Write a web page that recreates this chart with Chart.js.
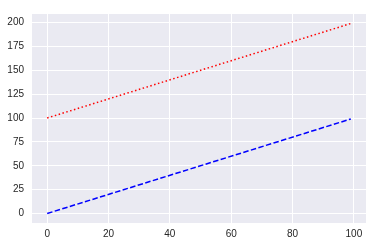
<!DOCTYPE html>
<html>
<head>
<meta charset="utf-8">
<script src="https://cdn.jsdelivr.net/npm/chart.js@4"></script>
<style>
  html, body { margin: 0; padding: 0; background: #fff; }
  #wrap { width: 373px; height: 247px; }
</style>
</head>
<body>
<div id="wrap"><canvas id="chart" width="373" height="247"></canvas></div>
<script>
// values
const xEnds = [0, 99];
const lowerLine = [0, 99];
const upperLine = [100, 199];
const xTicks = [0, 20, 40, 60, 80, 100];
const yTicks = [0, 25, 50, 75, 100, 125, 150, 175, 200];

const toPoints = (xs, ys) => xs.map((x, i) => ({ x: x, y: ys[i] }));

const plotBackground = {
  id: 'plotBackground',
  beforeDraw: chart => {
    const { ctx, chartArea } = chart;
    ctx.save();
    ctx.fillStyle = '#eaeaf2';
    ctx.fillRect(chartArea.left, chartArea.top, chartArea.right - chartArea.left, chartArea.bottom - chartArea.top);
    ctx.restore();
  }
};

const tickFont = { family: "'Liberation Sans', Arial, sans-serif", size: 10 };

new Chart(document.getElementById('chart'), {
  type: 'line',
  data: {
    datasets: [
      {
        data: toPoints(xEnds, lowerLine),
        borderColor: '#0000ff',
        borderWidth: 1.5,
        borderDash: [5.5, 2.4],
        pointRadius: 0,
        fill: false
      },
      {
        data: toPoints(xEnds, upperLine),
        borderColor: '#ff0000',
        borderWidth: 1.5,
        borderDash: [1.5, 2.5],
        pointRadius: 0,
        fill: false
      }
    ]
  },
  plugins: [plotBackground],
  options: {
    responsive: false,
    animation: false,
    layout: { padding: { top: 7, right: 7, left: 0, bottom: 0 } },
    plugins: { legend: { display: false }, tooltip: { enabled: false } },
    scales: {
      x: {
        type: 'linear',
        min: -4.95,
        max: 103.95,
        afterBuildTicks: scale => { scale.ticks = xTicks.map(v => ({ value: v })); },
        afterFit: scale => { scale.height = 24; },
        grid: { color: '#ffffff', lineWidth: 1, drawTicks: false },
        border: { display: false },
        ticks: { color: '#262626', font: tickFont, padding: 5, maxRotation: 0 }
      },
      y: {
        type: 'linear',
        min: -9.95,
        max: 208.95,
        afterBuildTicks: scale => { scale.ticks = yTicks.map(v => ({ value: v })); },
        afterFit: scale => { scale.width = 32; },
        grid: { color: '#ffffff', lineWidth: 1, drawTicks: false },
        border: { display: false },
        ticks: { color: '#262626', font: tickFont, padding: 8 }
      }
    }
  }
});
</script>
</body>
</html>
